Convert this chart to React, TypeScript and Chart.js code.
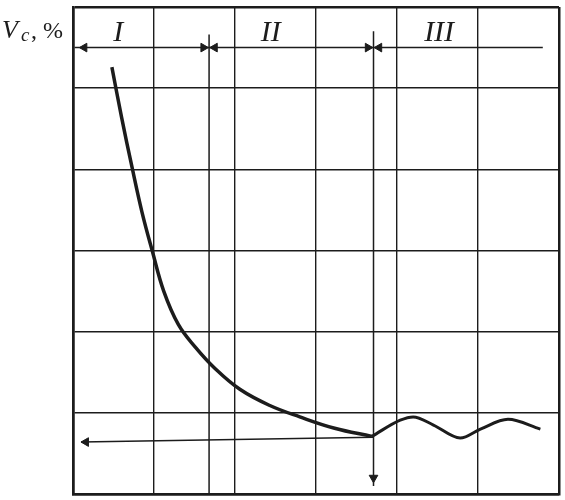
import React, { useEffect, useRef } from "react";
import { Chart, registerables } from "chart.js";

Chart.register(...registerables);

// Curve V_c (%) vs. process progress, in grid units
const curveX = [0.48, 0.6, 0.73, 0.85, 0.98, 1.12, 1.3, 1.51, 1.75, 2.06, 2.43, 2.8, 3.23, 3.69];
const curveY = [5.26, 4.64, 4.02, 3.48, 2.99, 2.5, 2.09, 1.81, 1.55, 1.29, 1.09, 0.95, 0.81, 0.71];
// Oscillating tail in region III
const waveX = [3.69, 4.04, 4.2, 4.45, 4.78, 5.03, 5.37, 5.77];
const waveY = [0.71, 0.91, 0.95, 0.85, 0.69, 0.8, 0.92, 0.8];
// Region boundaries and labels
const boundaryX = [1.68, 3.71];
const regionLabels = ["I", "II", "III"];
const regionLabelX = [0.56, 2.44, 4.52];
const regionRowY = 5.5;
const minimumY = 0.7;
const axisLabel = ["V", "c", ", %"];

const INK = "#1c1c1c";

export default function App() {
  const ref = useRef<HTMLCanvasElement | null>(null);

  useEffect(() => {
    if (!ref.current) return;
    const pts = (xs: number[], ys: number[]) => xs.map((x, i) => ({ x, y: ys[i] }));
    const seg = (x1: number, y1: number, x2: number, y2: number, w = 1.5) => ({
      type: "line" as const,
      data: [{ x: x1, y: y1 }, { x: x2, y: y2 }],
      borderColor: INK,
      borderWidth: w,
      pointRadius: 0,
      tension: 0,
    });

    const textPlugin = {
      id: "texts",
      afterDraw(chart: any) {
        const { ctx, scales } = chart;
        ctx.save();
        ctx.fillStyle = INK;
        ctx.textBaseline = "alphabetic";
        ctx.font = 'italic 26px "Liberation Serif"';
        ctx.fillText(axisLabel[0], 2, 38);
        ctx.font = 'italic 19px "Liberation Serif"';
        ctx.fillText(axisLabel[1], 21, 41);
        ctx.font = '24px "Liberation Serif"';
        ctx.fillText(axisLabel[2], 31, 38);
        ctx.font = 'italic 30px "Liberation Serif"';
        ctx.textAlign = "center";
        regionLabels.forEach((t, i) => {
          ctx.fillText(t, scales.x.getPixelForValue(regionLabelX[i]), 41);
        });
        ctx.restore();
      },
    };

    const bg = {
      id: "bg",
      beforeDraw(chart: any) {
        const c = chart.ctx;
        c.save();
        c.fillStyle = "#fff";
        c.fillRect(0, 0, chart.width, chart.height);
        c.restore();
      },
    };

    const chart = new Chart(ref.current, {
      type: "scatter",
      data: {
        datasets: [
          {
            type: "line",
            data: pts(curveX, curveY),
            borderColor: INK,
            borderWidth: 3.5,
            pointRadius: 0,
            tension: 0.4,
          },
          {
            type: "line",
            data: pts(waveX, waveY),
            borderColor: INK,
            borderWidth: 3,
            pointRadius: 0,
            cubicInterpolationMode: "monotone",
          },
          seg(boundaryX[0], 5.66, boundaryX[0], 0),
          seg(boundaryX[1], 5.7, boundaryX[1], 0.1),
          seg(0.02, regionRowY, boundaryX[0], regionRowY),
          seg(boundaryX[0], regionRowY, boundaryX[1], regionRowY),
          seg(boundaryX[1], regionRowY, 5.8, regionRowY),
          seg(0.1, minimumY - 0.06, boundaryX[1], minimumY),
          {
            type: "scatter",
            data: [
              { x: 0.14, y: regionRowY },
              { x: boundaryX[0] - 0.07, y: regionRowY },
              { x: boundaryX[0] + 0.07, y: regionRowY },
              { x: boundaryX[1] - 0.07, y: regionRowY },
              { x: boundaryX[1] + 0.07, y: regionRowY },
              { x: 0.16, y: minimumY - 0.06 },
              { x: boundaryX[1], y: 0.2 },
            ],
            pointStyle: "triangle",
            pointRadius: 5,
            pointRotation: [-90, 90, -90, 90, -90, -90, 180],
            backgroundColor: INK,
            borderColor: INK,
            borderWidth: 1,
          } as any,
        ],
      },
      options: {
        animation: false,
        responsive: false,
        maintainAspectRatio: false,
        layout: { padding: { left: 73, top: 7, right: 6, bottom: 5 } },
        plugins: { legend: { display: false }, tooltip: { enabled: false } },
        scales: {
          x: {
            type: "linear",
            min: 0,
            max: 6,
            ticks: { stepSize: 1, display: false },
            grid: {
              color: INK,
              lineWidth: (c: any) => (c.tick && (c.tick.value === 0 || c.tick.value === 6) ? 2.5 : 1.4),
              drawTicks: false,
            },
            border: { display: true, color: INK, width: 2.5 },
          },
          y: {
            type: "linear",
            min: 0,
            max: 6,
            ticks: { stepSize: 1, display: false },
            grid: {
              color: INK,
              lineWidth: (c: any) => (c.tick && (c.tick.value === 0 || c.tick.value === 6) ? 2.5 : 1.4),
              drawTicks: false,
            },
            border: { display: true, color: INK, width: 2.5 },
          },
        },
      } as any,
      plugins: [bg, textPlugin],
    });
    return () => chart.destroy();
  }, []);

  return (
    <div style={{ position: "fixed", left: 0, top: 0, width: 565, height: 500, background: "#fff" }}>
      <canvas ref={ref} width={565} height={500} style={{ width: 565, height: 500 }} />
    </div>
  );
}
